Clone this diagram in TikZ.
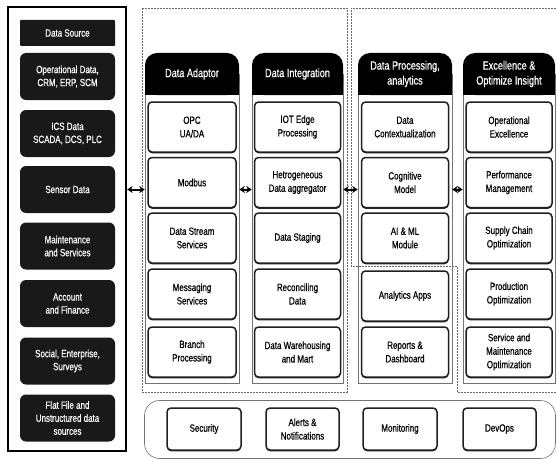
\documentclass[tikz,border=0pt]{standalone}
\usepackage{fontspec}
\setmainfont{Liberation Sans}[FakeStretch=0.76, FakeBold=0.6]
\usetikzlibrary{arrows.meta,shadows}
\begin{document}
\begin{tikzpicture}[x=1pt,y=-1pt,
 srcbox/.style={fill=black!90, text=white, rounded corners=6pt, minimum width=95pt, minimum height=47pt, align=center, font=\fontsize{10.5}{13}\selectfont, inner sep=0pt},
 itembox/.style={draw=black!88, line width=1.5pt, rounded corners=4pt, fill=white, align=center, minimum height=50pt, font=\fontsize{10.5}{13.5}\selectfont, inner sep=0pt, drop shadow={shadow xshift=0pt, shadow yshift=-1.3pt, fill=black!85, opacity=1}},
 botbox/.style={itembox, minimum height=42pt},
 colbody/.style={draw=black!55, line width=0.6pt, inner sep=0pt, minimum height=309pt},
 header/.style={fill=black, text=white, rounded corners=12pt, minimum height=42pt, font=\fontsize{12}{15}\selectfont, align=center, inner sep=0pt},
 dashline/.style={draw=black!60, dash pattern=on 2pt off 1pt, line width=0.6pt},
 link/.style={{Stealth[length=5.5pt,width=7pt]}-{Stealth[length=5.5pt,width=7pt]}, line width=2pt}
]
\useasboundingbox (0,0) rectangle (557,460);

% dashed regions
\draw[dashline] (142,8) rectangle (347,392);
\draw[dashline] (556,8) -- (351,8) -- (351,266) -- (457,266) -- (457,392) -- (556,392);

% source column
\node[draw=black, line width=2.4pt, minimum width=118pt, minimum height=444pt, inner sep=0pt] (src) at (67,229) {};
\node[srcbox, rounded corners=1pt, minimum height=26pt] (ds) at (67.5,33) {Data Source};
\node[srcbox] (ops) at (67.5,76.5) {Operational Data,\\CRM, ERP, SCM};
\node[srcbox] (ics) at (67.5,133.5) {ICS Data\\SCADA, DCS, PLC};
\node[srcbox] (sensor) at (67.5,189.5) {Sensor Data};
\node[srcbox] (maint) at (67.5,246) {Maintenance\\and Services};
\node[srcbox] (acct) at (67.5,303.5) {Account\\and Finance};
\node[srcbox] (social) at (67.5,361) {Social, Enterprise,\\Surveys};
\node[srcbox] (flat) at (67.5,418) {Flat File and\\Unstructured data\\sources};

% column bodies
\node[colbody, minimum width=94pt] (c1) at (192,228.5) {};
\node[colbody, minimum width=91pt] (c2) at (297.5,228.5) {};
\node[colbody, minimum width=94pt] (c3) at (405,228.5) {};
\node[colbody, minimum width=92pt] (c4) at (509,228.5) {};

% headers
\fill[black] (145,74) rectangle (239,95);
\fill[black] (252,74) rectangle (343,95);
\fill[black] (358,74) rectangle (452,95);
\fill[black] (463,74) rectangle (555,95);
\node[header, minimum width=94pt] (h1) at (192,74) {Data Adaptor};
\node[header, minimum width=91pt] (h2) at (297.5,74) {Data Integration};
\node[header, minimum width=94pt] (h3) at (405,74) {Data Processing,\\analytics};
\node[header, minimum width=92pt] (h4) at (509,74) {Excellence \&\\Optimize Insight};

% column 1
\node[itembox, minimum width=88pt] (opc) at (192,127) {OPC\\UA/DA};
\node[itembox, minimum width=88pt] (modbus) at (192,182.5) {Modbus};
\node[itembox, minimum width=88pt] (stream) at (192,238) {Data Stream\\Services};
\node[itembox, minimum width=88pt] (msg) at (192,294) {Messaging\\Services};
\node[itembox, minimum width=88pt] (branch) at (192,352) {Branch\\Processing};

% column 2
\node[itembox, minimum width=86pt] (iot) at (297.5,127) {IOT Edge\\Processing};
\node[itembox, minimum width=86pt] (hetro) at (297.5,182.5) {Hetrogeneous\\Data aggregator};
\node[itembox, minimum width=86pt] (staging) at (297.5,238) {Data Staging};
\node[itembox, minimum width=86pt] (recon) at (297.5,294) {Reconciling\\Data};
\node[itembox, minimum width=86pt] (dw) at (297.5,352) {Data Warehousing\\and Mart};

% column 3
\node[itembox, minimum width=87pt] (ctx) at (405,127) {Data\\Contextualization};
\node[itembox, minimum width=87pt] (cog) at (405,182.5) {Cognitive\\Model};
\node[itembox, minimum width=87pt] (aiml) at (405,238) {AI \& ML\\Module};
\node[itembox, minimum width=87pt] (apps) at (405,296) {Analytics Apps};
\node[itembox, minimum width=87pt] (reports) at (405,352) {Reports \&\\Dashboard};

% column 4
\node[itembox, minimum width=86pt] (opex) at (509,127) {Operational\\Excellence};
\node[itembox, minimum width=86pt] (perf) at (509,182.5) {Performance\\Management};
\node[itembox, minimum width=86pt] (supply) at (509,238) {Supply Chain\\Optimization};
\node[itembox, minimum width=86pt] (prod) at (509,294) {Production\\Optimization};
\node[itembox, minimum width=86pt] (service) at (509,352) {Service and\\Maintenance\\Optimization};

% bottom panel
\node[draw=black!55, line width=0.6pt, rounded corners=15pt, minimum width=411pt, minimum height=58pt, inner sep=0pt] (panel) at (350,429.5) {};
\node[botbox, minimum width=74pt] (sec) at (204,429) {Security};
\node[botbox, minimum width=73pt] (alerts) at (302.5,429) {Alerts \&\\Notifications};
\node[botbox, minimum width=74pt] (mon) at (400,429) {Monitoring};
\node[botbox, minimum width=73pt] (devops) at (499.5,429) {DevOps};

% arrows
\draw[link] (src.east |- sensor) -- (c1.west |- sensor);
\draw[link] (c1.east |- sensor) -- (c2.west |- sensor);
\draw[link] (c2.east |- sensor) -- (c3.west |- sensor);
\draw[link] (c3.east |- sensor) -- (c4.west |- sensor);
\end{tikzpicture}
\end{document}
